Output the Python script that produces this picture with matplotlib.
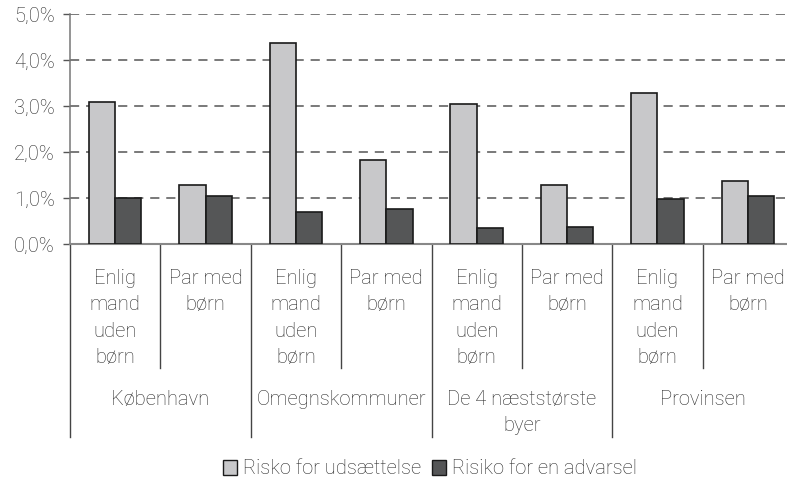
import matplotlib
matplotlib.use("Agg")
import matplotlib.pyplot as plt
import matplotlib.transforms as mtransforms
from matplotlib.patches import Patch

plt.rcParams['font.family'] = ['Roboto', 'DejaVu Sans']
plt.rcParams['font.weight'] = 'light'

groups = ["København", "Omegnskommuner", "De 4 næststørste\nbyer", "Provinsen"]
subcats = ["Enlig\nmand\nuden\nbørn", "Par med\nbørn"] * 4
risk_eviction = [3.08, 1.28, 4.37, 1.83, 3.05, 1.28, 3.28, 1.37]
risk_warning = [0.99, 1.05, 0.70, 0.76, 0.35, 0.38, 0.98, 1.05]
series_names = ["Risko for udsættelse", "Risiko for en advarsel"]
yticks = [0, 1, 2, 3, 4, 5]
ytick_labels = ["0,0%", "1,0%", "2,0%", "3,0%", "4,0%", "5,0%"]

W, H = 787, 484
fig = plt.figure(figsize=(W / 100, H / 100), dpi=100)
ax = fig.add_axes([70 / W, 240 / H, 723 / W, 230 / H])

light = "#c8c8ca"
dark = "#555657"
txt = "#2a2a2a"
fs = 14.5
n = len(risk_eviction)
xs = list(range(n))
bw = 0.29
ax.bar([x - bw / 2 for x in xs], risk_eviction, width=bw, color=light,
       edgecolor="#1a1a1a", linewidth=1.2, zorder=3)
ax.bar([x + bw / 2 for x in xs], risk_warning, width=bw, color=dark,
       edgecolor="#1a1a1a", linewidth=1.2, zorder=3)

ax.set_xlim(-0.5, n - 0.5)
ax.set_ylim(0, 5)
ax.set_yticks(yticks)
ax.set_yticklabels(ytick_labels, fontsize=fs, color=txt)
ax.set_xticks([])
for y in yticks[1:]:
    ax.axhline(y, color="#555555", lw=1.1, ls=(0, (6, 4.5)), zorder=1)
for s in ["top", "right"]:
    ax.spines[s].set_visible(False)
ax.spines["left"].set_color("#777777")
ax.spines["bottom"].set_color("#888888")
ax.spines["left"].set_linewidth(1.1)
ax.spines["bottom"].set_linewidth(1.5)
ax.tick_params(axis="y", length=5, color="#555555", width=1, pad=6)

trans = mtransforms.blended_transform_factory(ax.transData, ax.transAxes)

def fy(py):
    return (244 - py) / 230.0

# separators
for i in range(n):
    xb = i - 0.5
    bottom = 437 if i % 2 == 0 else 368
    ax.plot([xb, xb], [0, fy(bottom)], transform=trans, color="#444444",
            lw=1, clip_on=False)

# subcategory labels
for i, lab in enumerate(subcats):
    for k, line in enumerate(lab.split("\n")):
        ax.text(i, fy(284 + 26.3 * k), line, transform=trans, ha="center",
                va="baseline", fontsize=fs, color=txt)

# group labels
for g, lab in enumerate(groups):
    for k, line in enumerate(lab.split("\n")):
        ax.text(2 * g + 0.5, fy(405 + 26.3 * k), line, transform=trans,
                ha="center", va="baseline", fontsize=fs, color=txt)

handles = [Patch(facecolor=light, edgecolor="#1a1a1a", lw=1),
           Patch(facecolor=dark, edgecolor="#1a1a1a", lw=1)]
fig.legend(handles, series_names, loc="center", bbox_to_anchor=(430 / W, 1 - 469 / H),
           ncol=2, frameon=False, fontsize=fs, handlelength=0.7,
           handleheight=0.7, handletextpad=0.3, columnspacing=0.5,
           labelcolor=txt)

fig.savefig("out.png", dpi=100)
